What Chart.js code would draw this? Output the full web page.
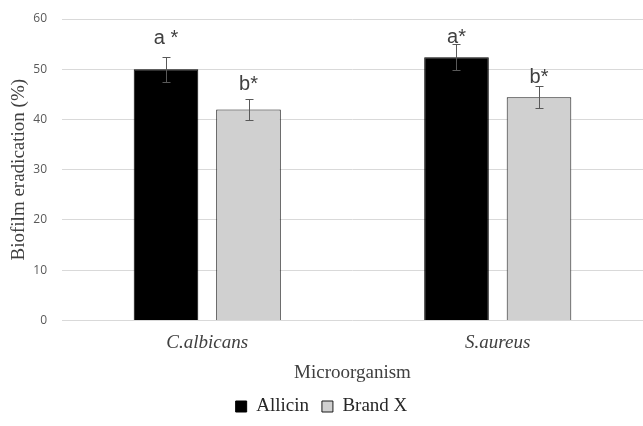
<!DOCTYPE html>
<html>
<head>
<meta charset="utf-8">
<script src="https://cdn.jsdelivr.net/npm/chart.js@4.4.0/dist/chart.umd.min.js"></script>
<style>
  html, body { margin: 0; padding: 0; background: #fff; }
  #wrap { width: 643px; height: 426px; }
</style>
</head>
<body>
<div id="wrap"><canvas id="chart"></canvas></div>
<script>
// values
const categories = ['C.albicans', 'S.aureus'];
const allicin = [50.0, 52.4];
const allicinErr = [2.5, 2.6];
const brandX = [42.0, 44.4];
const brandXErr = [2.1, 2.2];
const allicinMarks = ['a *', 'a*'];
const allicinMarkAt = [55.0, 55.2];
const brandXMarks = ['b*', 'b*'];
const brandXMarkAt = [45.8, 47.2];

const TIMES = '"Liberation Serif", "Times New Roman", serif';

// error bars + significance letters, placed through the y scale
const errorBars = {
  id: 'errorBars',
  afterDatasetsDraw(chart) {
    const ctx = chart.ctx;
    const y = chart.scales.y;
    chart.data.datasets.forEach((ds, i) => {
      chart.getDatasetMeta(i).data.forEach((bar, j) => {
        const v = ds.data[j], e = ds.errors[j];
        const x = Math.round(bar.x) + 0.5;
        const top = Math.round(y.getPixelForValue(v + e)) + 0.5;
        const bot = Math.round(y.getPixelForValue(v - e)) + 0.5;
        ctx.save();
        ctx.strokeStyle = '#595959';
        ctx.lineWidth = 1;
        ctx.beginPath();
        ctx.moveTo(x, top); ctx.lineTo(x, bot);
        ctx.moveTo(x - 4, top); ctx.lineTo(x + 4, top);
        ctx.moveTo(x - 4, bot); ctx.lineTo(x + 4, bot);
        ctx.stroke();
        ctx.font = '20px "Liberation Sans", Arial, sans-serif';
        ctx.fillStyle = '#404040';
        ctx.textAlign = 'center';
        ctx.textBaseline = 'alphabetic';
        ctx.fillText(ds.marks[j], bar.x, y.getPixelForValue(ds.markAt[j]));
        ctx.restore();
      });
    });
  }
};

const ctx = document.getElementById('chart').getContext('2d');
new Chart(ctx, {
  type: 'bar',
  data: {
    labels: categories,
    datasets: [{
      label: 'Allicin',
      data: allicin,
      errors: allicinErr,
      marks: allicinMarks,
      markAt: allicinMarkAt,
      backgroundColor: '#000000',
      borderColor: '#000000',
      borderWidth: 1
    }, {
      label: 'Brand X',
      data: brandX,
      errors: brandXErr,
      marks: brandXMarks,
      markAt: brandXMarkAt,
      backgroundColor: '#d0d0d0',
      borderColor: '#1a1a1a',
      borderWidth: 1
    }]
  },
  options: {
    responsive: true,
    maintainAspectRatio: false,
    animation: false,
    categoryPercentage: 0.568,
    barPercentage: 0.783,
    layout: { padding: { top: 0, right: 0, bottom: 0, left: 0 } },
    plugins: {
      legend: {
        position: 'bottom',
        labels: {
          boxWidth: 11,
          boxHeight: 11,
          padding: 13,
          color: '#262626',
          font: { family: TIMES, size: 19 }
        }
      },
      tooltip: { enabled: false }
    },
    scales: {
      x: {
        grid: { display: false },
        border: { display: false },
        ticks: {
          padding: 3,
          color: '#404040',
          font: { family: TIMES, size: 19, style: 'italic' }
        },
        title: {
          display: true,
          text: 'Microorganism',
          color: '#404040',
          font: { family: TIMES, size: 19 },
          padding: { top: 4, bottom: 0 }
        }
      },
      y: {
        min: 0,
        max: 60,
        afterFit: s => { s.width = 62; s.paddingTop = 19; },
        grid: { color: '#d9d9d9', lineWidth: 1, drawTicks: false },
        border: { display: false },
        ticks: {
          stepSize: 10,
          padding: 15,
          color: '#595959',
          font: { family: '"Open Sans", "Liberation Sans", sans-serif', size: 12 }
        },
        title: {
          display: true,
          text: 'Biofilm eradication (%)',
          color: '#404040',
          font: { family: TIMES, size: 19 },
          padding: { top: 8, bottom: 0 }
        }
      }
    }
  },
  plugins: [errorBars]
});
</script>
</body>
</html>
